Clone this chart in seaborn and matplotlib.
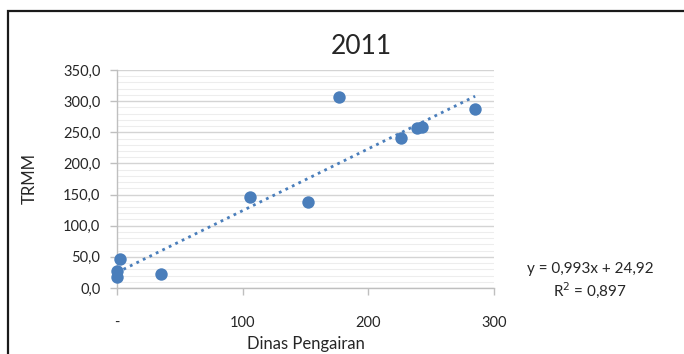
import matplotlib
matplotlib.use("Agg")
import matplotlib.pyplot as plt
from matplotlib.patches import Rectangle
from matplotlib.ticker import MultipleLocator, FixedLocator, FuncFormatter
import numpy as np
import pandas as pd
import seaborn as sns

# Rainfall pairs for 2011: agency gauge vs TRMM estimate
dinas_pengairan = [0, 0, 2.5, 35, 105.5, 152, 177, 226, 239, 243, 285]
trmm = [18, 28, 46, 23, 146, 138, 307, 241, 257, 258, 287]

# Linear trend (as reported)
slope = 0.993
intercept = 24.92
r_squared = 0.897

x_ticks = [0, 100, 200, 300]
x_tick_labels = ["-", "100", "200", "300"]
y_ticks = [0, 50, 100, 150, 200, 250, 300, 350]

sns.set_theme(style="white")
plt.rcParams["font.family"] = ["Lato", "DejaVu Sans"]

blue = "#4A7EBB"
text_color = "#262626"
df = pd.DataFrame({"Dinas Pengairan": dinas_pengairan, "TRMM": trmm})

fig = plt.figure(figsize=(6.84, 3.54), dpi=100)
fig.patch.set_facecolor("white")

# chart frame
fig.patches.append(Rectangle((8 / 684, -0.1), 1.2, 1 - 10.5 / 354 + 0.1,
                             transform=fig.transFigure, fill=False,
                             edgecolor="#1a1a1a", linewidth=1.6))

ax = fig.add_axes([117 / 684, 1 - 288 / 354, (494 - 117) / 684, (288 - 70) / 354])

ax.set_xlim(0, 300)
ax.set_ylim(0, 350)

ax.yaxis.set_major_locator(FixedLocator(y_ticks))
ax.yaxis.set_minor_locator(MultipleLocator(10))
ax.grid(which="major", axis="y", color="#d4d4d4", linewidth=1.0)
ax.grid(which="minor", axis="y", color="#ededed", linewidth=0.8)
ax.grid(which="major", axis="x", visible=False)
ax.set_axisbelow(True)

sns.scatterplot(data=df, x="Dinas Pengairan", y="TRMM", ax=ax, color=blue,
                s=80, edgecolor=blue, linewidth=0, zorder=3, clip_on=False)

xs = np.array([min(dinas_pengairan), max(dinas_pengairan)])
ax.plot(xs, slope * xs + intercept, linestyle=(0, (1, 1.6)), color=blue,
        linewidth=2.0, zorder=2)

for side in ["top", "right"]:
    ax.spines[side].set_visible(False)
for side in ["left", "bottom"]:
    ax.spines[side].set_color("#bfbfbf")
    ax.spines[side].set_linewidth(1.0)

ax.xaxis.set_major_locator(FixedLocator(x_ticks))
ax.set_xticklabels(x_tick_labels)
ax.yaxis.set_major_formatter(FuncFormatter(lambda v, p: f"{v:.1f}".replace(".", ",")))
ax.tick_params(axis="x", which="major", bottom=True, length=5, width=1,
               color="#bfbfbf", pad=15, labelsize=10.5, labelcolor=text_color)
ax.tick_params(axis="y", which="major", left=True, length=5, width=1,
               color="#bfbfbf", pad=7, labelsize=10.5, labelcolor=text_color)
ax.tick_params(axis="y", which="minor", left=False)

ax.set_xlabel("Dinas Pengairan", fontsize=12, color=text_color, va="center")
ax.set_ylabel("TRMM", fontsize=12, color=text_color, va="center")
ax.xaxis.set_label_coords(0.5, -(344 - 288) / 218)
ax.yaxis.set_label_coords(-(117 - 30) / 377, 0.5)

fig.text(361 / 684, 1 - 46 / 354, "2011", ha="center", va="center",
         fontsize=19, color=text_color)

fig.text(590 / 684, 1 - 269 / 354, f"y = {slope:.3f}x + {intercept:.2f}".replace(".", ","),
         ha="center", va="center", fontsize=11, color=text_color)
fig.text(590 / 684, 1 - 290 / 354, f"R$^2$ = {r_squared:.3f}".replace(".", ","),
         ha="center", va="center", fontsize=11, color=text_color)

fig.savefig("out.png", dpi=100, facecolor="white")
